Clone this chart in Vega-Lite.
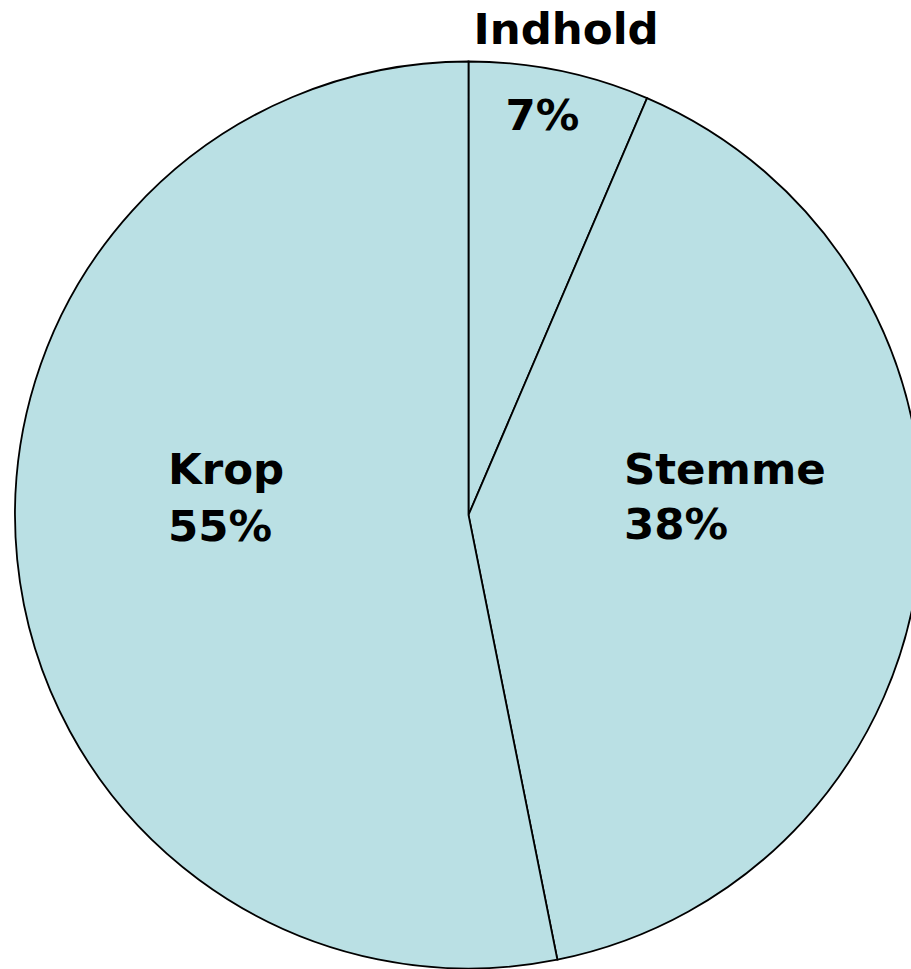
{
  "$schema": "https://vega.github.io/schema/vega-lite/v6.json",
  "width": 885,
  "height": 908,
  "autosize": "none",
  "padding": {"left": 26, "top": 61, "right": 0, "bottom": 0},
  "background": "white",
  "config": {"view": {"stroke": null}},
  "data": {
    "values": [
      {"rank": 1, "part": "Indhold", "share": 6.44, "pct": "7%"},
      {"rank": 2, "part": "Stemme", "share": 40.42, "pct": "38%"},
      {"rank": 3, "part": "Krop", "share": 53.14, "pct": "55%"}
    ]
  },
  "encoding": {
    "theta": {"field": "share", "type": "quantitative", "stack": true},
    "order": {"field": "rank", "type": "quantitative"}
  },
  "layer": [
    {
      "mark": {"type": "arc", "radius": 453.5, "fill": "#BAE0E4", "stroke": "black", "strokeWidth": 1.8}
    },
    {
      "mark": {"type": "text", "radius": 302, "dy": -61, "align": "left", "baseline": "alphabetic", "font": "DejaVu Sans", "fontWeight": "bold", "fontSize": 43.5, "color": "black"},
      "encoding": {"text": {"condition": {"test": "datum.part === 'Krop'", "field": "part"}, "value": ""}}
    },
    {
      "mark": {"type": "text", "radius": 302, "dy": -4, "align": "left", "baseline": "alphabetic", "font": "DejaVu Sans", "fontWeight": "bold", "fontSize": 43.5, "color": "black"},
      "encoding": {"text": {"condition": {"test": "datum.part === 'Krop'", "field": "pct"}, "value": ""}}
    },
    {
      "mark": {"type": "text", "radius": 156.3, "dy": -47, "align": "left", "baseline": "alphabetic", "font": "DejaVu Sans", "fontWeight": "bold", "fontSize": 43.5, "color": "black"},
      "encoding": {"text": {"condition": {"test": "datum.part === 'Stemme'", "field": "part"}, "value": ""}}
    },
    {
      "mark": {"type": "text", "radius": 156.3, "dy": 8, "align": "left", "baseline": "alphabetic", "font": "DejaVu Sans", "fontWeight": "bold", "fontSize": 43.5, "color": "black"},
      "encoding": {"text": {"condition": {"test": "datum.part === 'Stemme'", "field": "pct"}, "value": ""}}
    },
    {
      "mark": {"type": "text", "radius": 481, "dx": 1, "align": "center", "baseline": "alphabetic", "font": "DejaVu Sans", "fontWeight": "bold", "fontSize": 43.5, "color": "black"},
      "encoding": {"text": {"condition": {"test": "datum.part === 'Indhold'", "field": "part"}, "value": ""}}
    },
    {
      "mark": {"type": "text", "radius": 393, "dx": -5, "align": "center", "baseline": "alphabetic", "font": "DejaVu Sans", "fontWeight": "bold", "fontSize": 43.5, "color": "black"},
      "encoding": {"text": {"condition": {"test": "datum.part === 'Indhold'", "field": "pct"}, "value": ""}}
    }
  ]
}
